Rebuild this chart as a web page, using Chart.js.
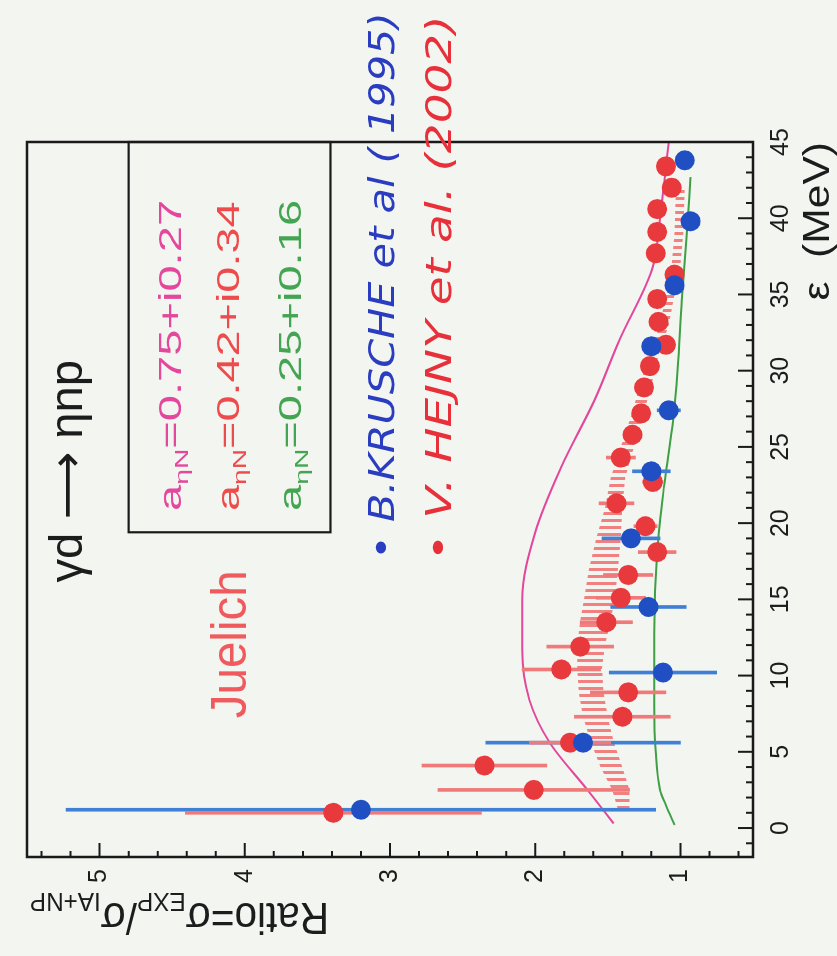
<!DOCTYPE html>
<html>
<head>
<meta charset="utf-8">
<script src="https://cdn.jsdelivr.net/npm/chart.js@4.4.0/dist/chart.umd.min.js"></script>
<style>
  html, body { margin: 0; padding: 0; background: #f3f5f0; }
  #wrap { position: relative; width: 837px; height: 956px; overflow: hidden; background: #f3f5f0; }
  /* the plot is drawn upright and then turned a quarter turn, like the scanned page */
  #turn { position: absolute; left: 0; top: 0; width: 956px; height: 837px;
          transform-origin: 0 0; transform: translate(0, 956px) rotate(-90deg); }
  canvas { display: block; }
</style>
</head>
<body>
<div id="wrap"><div id="turn"><canvas id="myChart" width="956" height="837"></canvas></div></div>
<script>
// epsilon (MeV) and ratio values
const redE     = [1.0, 2.5, 4.1, 5.6, 7.3, 8.9, 10.4, 11.9, 13.5, 15.1, 16.6, 18.1, 19.8, 21.3, 22.7, 24.3, 25.8, 27.2, 28.9, 30.3, 31.7, 33.2, 34.7, 36.3, 37.7, 39.1, 40.6, 42.0, 43.4];
const redRatio = [3.39, 2.01, 2.35, 1.76, 1.40, 1.36, 1.82, 1.69, 1.51, 1.41, 1.36, 1.16, 1.24, 1.44, 1.19, 1.41, 1.33, 1.27, 1.25, 1.21, 1.10, 1.15, 1.16, 1.04, 1.17, 1.16, 1.16, 1.06, 1.10];
const redErr   = [1.02, 0.66, 0.43, 0.28, 0.33, 0.26, 0.27, 0.23, 0.18, 0.17, 0.17, 0.13, 0.08, 0.12, 0.07, 0.10, 0.06, 0.05, 0.05, 0.04, 0.04, 0.04, 0.04, 0.04, 0.04, 0.04, 0.04, 0.04, 0.04];

const blueE     = [1.2, 5.6, 10.2, 14.5, 19.0, 23.4, 27.4, 31.6, 35.6, 39.8, 43.8];
const blueRatio = [3.20, 1.67, 1.12, 1.22, 1.34, 1.20, 1.08, 1.20, 1.04, 0.93, 0.97];
const blueErr   = [2.03, 0.67, 0.37, 0.26, 0.20, 0.13, 0.08, 0.05, 0.04, 0.03, 0.03];

// hatched band
const bandE  = [1.2, 2.5, 4, 5.7, 7.3, 8.9, 10.5, 12, 13.6, 15.2, 17, 19, 21, 23, 25, 27, 29, 31, 33, 35, 37, 39, 42];
const bandLo = [1.35, 1.35, 1.40, 1.46, 1.50, 1.53, 1.54, 1.52, 1.48, 1.45, 1.43, 1.41, 1.40, 1.38, 1.32, 1.26, 1.20, 1.15, 1.08, 1.04, 1.00, 0.98, 0.97];
const bandHi = [1.43, 1.47, 1.55, 1.62, 1.67, 1.70, 1.71, 1.71, 1.69, 1.66, 1.63, 1.58, 1.52, 1.48, 1.41, 1.34, 1.28, 1.22, 1.14, 1.10, 1.06, 1.04, 1.03];

// model curves
const magE = [0.3, 2.5, 5.6, 8.4, 11.7, 15, 19.4, 23.7, 28.1, 32, 36.8, 40, 45];
const magR = [1.46, 1.64, 1.90, 2.04, 2.09, 2.09, 2.00, 1.82, 1.59, 1.42, 1.19, 1.14, 1.08];
const grnE = [0.2, 1.5, 2.5, 5, 8, 12.8, 18.2, 22.6, 26.8, 30, 34.6, 38.5, 42.7];
const grnR = [1.04, 1.10, 1.14, 1.17, 1.18, 1.18, 1.16, 1.11, 1.05, 1.02, 0.99, 0.96, 0.93];

const eTicks = [0, 5, 10, 15, 20, 25, 30, 35, 40, 45];
const rTicks = [1, 2, 3, 4, 5];

const SANS = '"Liberation Sans", "DejaVu Sans", sans-serif';
const HAND = '"Liberation Sans Narrow", "DejaVu Sans Condensed", "Liberation Sans", sans-serif';

// texts, placed in (epsilon, ratio) units
const textItems = [
  { segs: [{t: 'γd '}, {t: '⟶'}, {t: ' ηnp'}], e0: 16.1, e1: 30.7, r: 5.12, size: 46, color: '#1c1c1c' },
  { segs: [{t: 'Juelich'}], e0: 7.2, e1: 16.9, r: 3.99, size: 50, color: '#ef5a5e' },
  { segs: [{t: 'a'}, {t: 'ηN', sub: true}, {t: '=0.75+i0.27'}], e0: 20.8, e1: 41.2, r: 4.44, size: 32, color: '#e4489c' },
  { segs: [{t: 'a'}, {t: 'ηN', sub: true}, {t: '=0.42+i0.34'}], e0: 20.8, e1: 41.1, r: 4.04, size: 32, color: '#ee4c4c' },
  { segs: [{t: 'a'}, {t: 'ηN', sub: true}, {t: '=0.25+i0.16'}], e0: 20.8, e1: 41.2, r: 3.61, size: 32, color: '#43a552' },
  { segs: [{t: '• B.KRUSCHE et al ( 1995)'}], e0: 17.6, e1: 53.5, r: 2.97, size: 36, color: '#2a3cc0', style: 'italic', family: HAND },
  { segs: [{t: '• V. HEJNY et al. (2002)'}], e0: 17.5, e1: 53.3, r: 2.58, size: 36, color: '#e8303a', style: 'italic', family: HAND },
  { segs: [{t: 'ε  (MeV)'}], e0: 34.6, e1: 45.0, r: -0.02, size: 36, color: '#1c1c1c' }
];
const ratioTitle = { segs: [{t: 'Ratio=σ'}, {t: 'EXP', sub: true}, {t: '/σ'}, {t: 'IA+NP', sub: true}],
                     r0: 3.42, r1: 5.48, e: -4.9, size: 44, color: '#1c1c1c' };
const legendBox = { e0: 19.4, e1: 45, r0: 3.41, r1: 4.80 };

function segFont(it, seg) {
  const s = seg.sub ? it.size * 0.6 : it.size;
  return `${it.style || 'normal'} ${s}px ${it.family || SANS}`;
}

// draws a run of text fitted to a given length along a given direction
function drawRun(ctx, it, ox, oy, length, angle) {
  let w = 0;
  it.segs.forEach(seg => { ctx.font = segFont(it, seg); w += ctx.measureText(seg.t).width; });
  ctx.save();
  ctx.translate(ox, oy);
  ctx.rotate(angle);
  ctx.scale(length / w, 1);
  ctx.fillStyle = it.color;
  ctx.textBaseline = 'alphabetic';
  ctx.textAlign = 'left';
  let cx = 0;
  it.segs.forEach(seg => {
    ctx.font = segFont(it, seg);
    ctx.fillText(seg.t, cx, seg.sub ? it.size * 0.22 : 0);
    cx += ctx.measureText(seg.t).width;
  });
  ctx.restore();
}

const bgPlugin = {
  id: 'bg',
  beforeDraw(chart) {
    const ctx = chart.ctx;
    ctx.save();
    ctx.fillStyle = '#f3f5f0';
    ctx.fillRect(0, 0, chart.width, chart.height);
    ctx.restore();
  }
};

const framePlugin = {
  id: 'frame',
  afterDatasetsDraw(chart) {
    const {ctx, chartArea: a, scales: {x, y}} = chart;
    ctx.save();
    ctx.strokeStyle = '#1a1a1a';
    ctx.lineWidth = 2;
    ctx.beginPath();
    for (let i = -1; i <= 45; i++) {
      const px = x.getPixelForValue(i);
      const len = i % 5 === 0 ? 15 : 7;
      ctx.moveTo(px, a.bottom);
      ctx.lineTo(px, a.bottom - len);
    }
    for (let i = 3; i <= 27; i++) {
      const py = y.getPixelForValue(i * 0.2);
      const len = i % 5 === 0 ? 14 : 6;
      ctx.moveTo(a.left, py);
      ctx.lineTo(a.left + len, py);
    }
    ctx.stroke();
    ctx.lineWidth = 2.5;
    ctx.strokeRect(a.left, a.top, a.right - a.left, a.bottom - a.top);
    // legend box
    const bx0 = x.getPixelForValue(legendBox.e0), bx1 = x.getPixelForValue(legendBox.e1);
    const by0 = y.getPixelForValue(legendBox.r1), by1 = y.getPixelForValue(legendBox.r0);
    ctx.lineWidth = 2.2;
    ctx.strokeRect(bx0, by0, bx1 - bx0, by1 - by0);
    ctx.restore();

    textItems.forEach(it => {
      const x0 = x.getPixelForValue(it.e0), x1 = x.getPixelForValue(it.e1);
      drawRun(ctx, it, x0, y.getPixelForValue(it.r), x1 - x0, 0);
    });
    const ry0 = y.getPixelForValue(ratioTitle.r0), ry1 = y.getPixelForValue(ratioTitle.r1);
    drawRun(ctx, ratioTitle, x.getPixelForValue(ratioTitle.e), ry0, ry0 - ry1, -Math.PI / 2);
  }
};

const canvas = document.getElementById('myChart');
const ctx = canvas.getContext('2d');

// vertical stripes for the hatched band
const pc = document.createElement('canvas');
pc.width = 7; pc.height = 7;
const pctx = pc.getContext('2d');
pctx.fillStyle = 'rgba(240, 100, 100, 0.8)';
pctx.fillRect(0, 0, 3, 7);
const hatch = ctx.createPattern(pc, 'repeat');

const pts = (xs, ys) => xs.map((v, i) => ({x: v, y: ys[i]}));
const bars = (xs, ys, es) => xs.map((v, i) => ({x: v, y: [ys[i] - es[i], ys[i] + es[i]]}));

window.myChart = new Chart(ctx, {
  type: 'scatter',
  data: {
    datasets: [
      { label: 'Krusche', data: pts(blueE, blueRatio), backgroundColor: '#1f4fc3', pointRadius: 10, pointBorderWidth: 0, order: 0 },
      { label: 'Hejny', data: pts(redE, redRatio), backgroundColor: '#e8393c', pointRadius: 10, pointBorderWidth: 0, order: 0 },
      { type: 'bar', label: 'Hejny err', data: bars(redE, redRatio, redErr), backgroundColor: '#f07a7a', barThickness: 3, grouped: false, order: 1 },
      { type: 'bar', label: 'Krusche err', data: bars(blueE, blueRatio, blueErr), backgroundColor: '#3f80d6', barThickness: 3, grouped: false, order: 1 },
      { type: 'line', label: '0.75+i0.27', data: pts(magE, magR), borderColor: '#e2479b', borderWidth: 2, pointRadius: 0, cubicInterpolationMode: 'monotone', fill: false, order: 2 },
      { type: 'line', label: '0.25+i0.16', data: pts(grnE, grnR), borderColor: '#3f9f45', borderWidth: 2, pointRadius: 0, cubicInterpolationMode: 'monotone', fill: false, order: 2 },
      { type: 'line', label: 'band lo', data: pts(bandE, bandLo), borderWidth: 0, borderColor: 'rgba(0,0,0,0)', pointRadius: 0, fill: false, order: 3 },
      { type: 'line', label: 'band hi', data: pts(bandE, bandHi), borderWidth: 0, borderColor: 'rgba(0,0,0,0)', pointRadius: 0, fill: '-1', backgroundColor: hatch, order: 3 }
    ]
  },
  options: {
    responsive: false,
    animation: false,
    layout: { padding: { top: 12, right: 142, left: 0, bottom: 0 } },
    plugins: { legend: { display: false }, tooltip: { enabled: false } },
    scales: {
      x: {
        type: 'linear', min: -1.9, max: 45, offset: false,
        grid: { display: false, drawTicks: false, offset: false },
        border: { display: false },
        afterBuildTicks: s => { s.ticks = eTicks.map(v => ({value: v})); },
        afterFit: s => { s.height = 84; },
        ticks: { padding: 13, color: '#1c1c1c', maxRotation: 0, autoSkip: false,
                 font: { family: SANS, size: 25 } }
      },
      y: {
        type: 'linear', min: 0.5, max: 5.5,
        grid: { display: false, drawTicks: false },
        border: { display: false },
        afterBuildTicks: s => { s.ticks = rTicks.map(v => ({value: v})); },
        afterFit: s => { s.width = 99; },
        ticks: { padding: 12, color: '#1c1c1c', font: { family: SANS, size: 25 } }
      }
    }
  },
  plugins: [bgPlugin, framePlugin]
});
</script>
</body>
</html>
